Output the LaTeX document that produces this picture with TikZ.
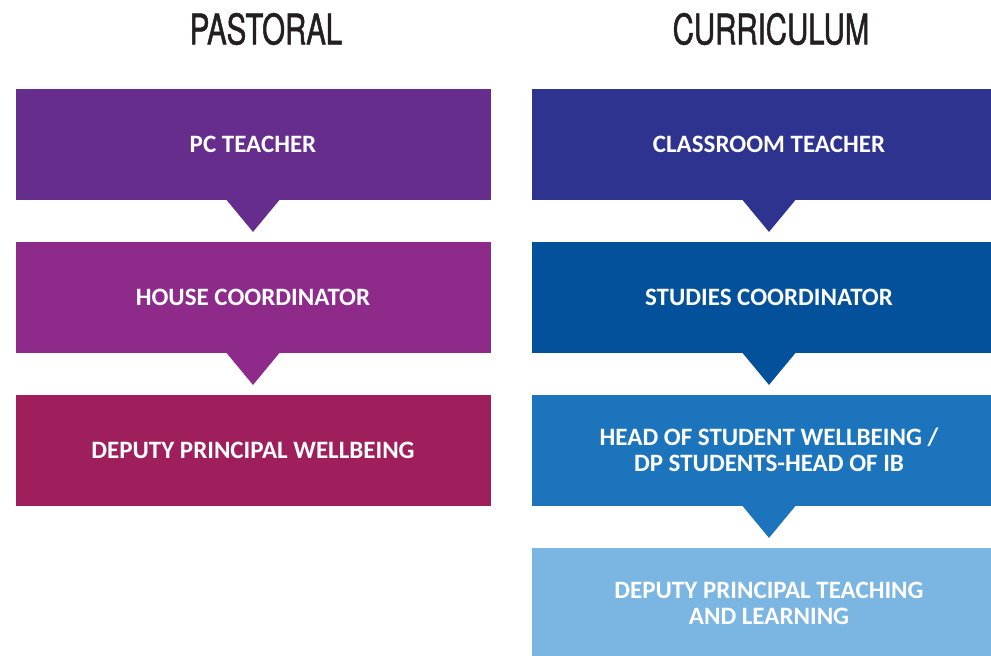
\documentclass[tikz,border=0pt]{standalone}
\usepackage{fontspec}
\setmainfont{Carlito}
\newfontfamily\headfont[FakeStretch=0.7,FakeBold=1.2]{TeX Gyre Heros}
\usetikzlibrary{positioning,calc}

\definecolor{pcPurple}{RGB}{102,45,140}
\definecolor{housePurple}{RGB}{142,42,138}
\definecolor{dpWine}{RGB}{158,31,92}
\definecolor{classNavy}{RGB}{46,51,143}
\definecolor{studyBlue}{RGB}{3,80,155}
\definecolor{headBlue}{RGB}{28,117,188}
\definecolor{dptlBlue}{RGB}{123,181,226}
\definecolor{headGrey}{RGB}{35,31,32}

\tikzset{
  roleBox/.style={minimum width=237.5pt, minimum height=55.5pt, inner sep=0pt,
    text=white, font=\bfseries\fontsize{12.5}{13}\selectfont, align=center},
  colHead/.style={text=headGrey, font=\headfont\fontsize{21}{24}\selectfont}
}

\begin{document}
\begin{tikzpicture}[x=0.5pt, y=-0.5pt]

\useasboundingbox (0,0) rectangle (991,655);

% column heads
\node [colHead] (head-past) at (266,29) {PASTORAL};
\node [colHead] (head-curr) at (771,29) {CURRICULUM};

% pastoral column
\foreach \m/\c/\l [count=\y] in {1/pcPurple/PC TEACHER,2/housePurple/HOUSE COORDINATOR,3/dpWine/DEPUTY PRINCIPAL WELLBEING}
  \node [roleBox, fill=\c] (past-\m) at (253,144+\y*153-153) {\l};

% curriculum column
\foreach \m/\c/\l [count=\y] in {1/classNavy/CLASSROOM TEACHER,2/studyBlue/STUDIES COORDINATOR,3/headBlue/{HEAD OF STUDENT WELLBEING /\\DP STUDENTS-HEAD OF IB},4/dptlBlue/{DEPUTY PRINCIPAL TEACHING\\AND LEARNING}}
  \node [roleBox, fill=\c] (curr-\m) at (769,144+\y*153-153) {\l};

% pointers
\foreach \i/\c in {1/pcPurple,2/housePurple}
  \fill [\c] ([xshift=-13.25pt]past-\i.south) -- ([xshift=13.25pt]past-\i.south)
    -- ([yshift=-16pt]past-\i.south) -- cycle;

\foreach \i/\c in {1/classNavy,2/studyBlue,3/headBlue}
  \fill [\c] ([xshift=-13.25pt]curr-\i.south) -- ([xshift=13.25pt]curr-\i.south)
    -- ([yshift=-16pt]curr-\i.south) -- cycle;

\end{tikzpicture}
\end{document}
